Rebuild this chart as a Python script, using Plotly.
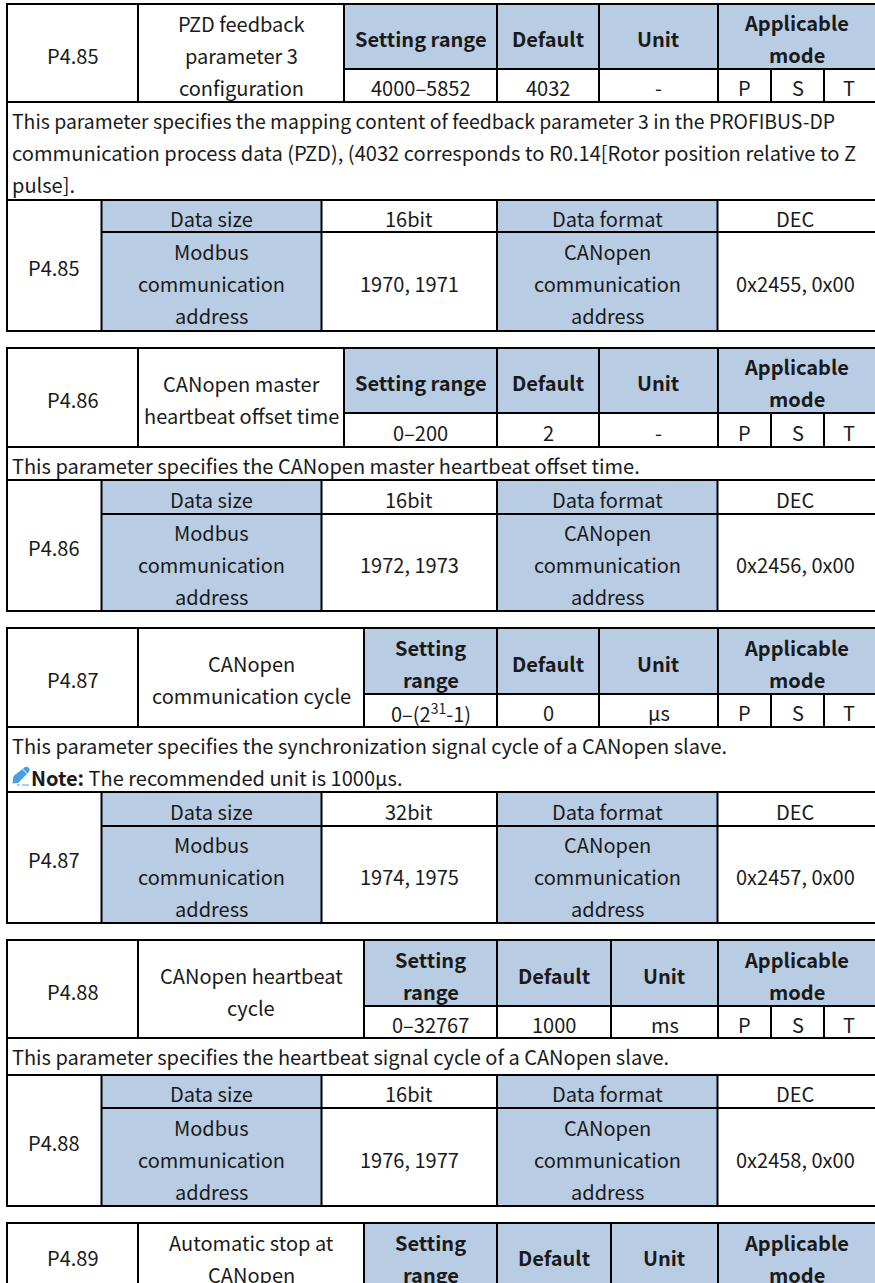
import plotly.graph_objects as go

# ---- table content ----
PARAM_CODES = ["P4.85", "P4.86", "P4.87", "P4.88", "P4.89"]
PARAM_NAMES = [
    ["PZD feedback", "parameter 3", "configuration"],
    ["CANopen master", "heartbeat offset time"],
    ["CANopen", "communication cycle"],
    ["CANopen heartbeat", "cycle"],
    ["Automatic stop at", "CANopen"],
]
SETTING_LABELS = [["Setting range"], ["Setting range"], ["Setting", "range"], ["Setting", "range"], ["Setting", "range"]]
SETTING_RANGES = ["4000–5852", "0–200", "0–(2<sup>31</sup>-1)", "0–32767", None]
DEFAULTS = ["4032", "2", "0", "1000", None]
UNITS = ["-", "-", "μs", "ms", None]
MODES = ["P", "S", "T"]
DESCRIPTIONS = [
    ["This parameter specifies the mapping content of feedback parameter 3 in the PROFIBUS-DP",
     "communication process data (PZD), (4032 corresponds to R0.14[Rotor position relative to Z",
     "pulse]."],
    ["This parameter specifies the CANopen master heartbeat offset time."],
    ["This parameter specifies the synchronization signal cycle of a CANopen slave.",
     "<b>Note:</b> The recommended unit is 1000μs."],
    ["This parameter specifies the heartbeat signal cycle of a CANopen slave."],
    [],
]
DATA_SIZES = ["16bit", "16bit", "32bit", "16bit", None]
DATA_FORMATS = ["DEC", "DEC", "DEC", "DEC", None]
MODBUS_ADDR = ["1970, 1971", "1972, 1973", "1974, 1975", "1976, 1977", None]
CANOPEN_ADDR = ["0x2455, 0x00", "0x2456, 0x00", "0x2457, 0x00", "0x2458, 0x00", None]

# ---- page geometry (pixels) ----
W, H = 875, 1283
ROW_Y = [  # top, header bottom, value bottom, description bottom, size bottom, table bottom
    [4, 69, 102, 200, 232, 331],
    [348, 413, 447, 480, 514, 611],
    [628, 694, 727, 792, 826, 923],
    [940, 1006, 1038, 1075, 1108, 1206],
    [1223, 1289, 1322, 1360, 1393, 1490],
]
UPPER_X = [  # left, code|name, name|range, range|default, default|unit, unit|mode, P|S, S|T
    [7, 138, 344, 497, 599, 718, 771, 824],
    [7, 138, 344, 497, 599, 718, 771, 824],
    [7, 138, 364, 497, 599, 718, 771, 824],
    [7, 138, 364, 497, 611, 718, 771, 824],
    [7, 138, 364, 497, 611, 718, 771, 824],
]
LOWER_X = [7, 101.5, 321.5, 497, 717.5]
LINE_H = 32
TEXT_DY = 2
FS = 20
FONT = "Noto Sans CJK SC"
BLUE = "#B8CCE4"
INK = "#1a1a1a"
PEN = "#4A9FE3"
# the first two description lines of P4.85 are fitted to the cell width
FITTED_SIZES = {"PROFIBUS-DP": 19.42, "relative to Z": 20.13}

shapes, annots = [], []


def rect(x0, y0, x1, y1):
    shapes.append(dict(type="rect", x0=x0, x1=x1, y0=y0, y1=y1, fillcolor=BLUE,
                       line=dict(width=0), layer="below"))


def line(x0, y0, x1, y1, w=2):
    shapes.append(dict(type="line", x0=x0, x1=x1, y0=y0, y1=y1,
                       line=dict(color="black", width=w), layer="above"))


def text(s, x, y, anchor="center", bold=False, size=FS):
    annots.append(dict(text=f"<b>{s}</b>" if bold else s, x=x, y=y, xref="x", yref="y",
                       xanchor=anchor, yanchor="middle", showarrow=False,
                       font=dict(family=FONT, size=size, color=INK),
                       borderpad=0, align=anchor))


def cell(lines, x0, x1, y0, y1, bold=False, cy=None):
    mid = ((y0 + y1) / 2 + TEXT_DY) if cy is None else cy
    top = mid - LINE_H * (len(lines) - 1) / 2
    for i, s in enumerate(lines):
        text(s, (x0 + x1) / 2, top + i * LINE_H, bold=bold)


for k, code in enumerate(PARAM_CODES):
    t, hb, vb, db, sb, bt = ROW_Y[k]
    ux, lx = UPPER_X[k], LOWER_X
    # fills
    rect(ux[2], t, W, hb)
    rect(lx[1], db, lx[2], bt)
    rect(lx[3], db, lx[4], bt)
    # rules
    line(ux[0] - 1, t, W, t)
    line(ux[2], hb, W, hb)
    line(ux[0] - 1, vb, W, vb)
    line(ux[0], t, ux[0], db)
    for x in ux[1:6]:
        line(x, t, x, vb)
    for x in ux[6:]:
        line(x, hb, x, vb)
    line(ux[0] - 1, db, W, db)
    line(lx[1], sb, W, sb)
    line(ux[0] - 1, bt, W, bt)
    line(lx[0], db, lx[0], bt)
    for x in lx[1:]:
        line(x, db, x, bt)

    # upper block text; the last block is cut by the page edge
    last = SETTING_RANGES[k] is None
    two_line_cy = 1258.5 if last else None
    one_line_cy = 1257 if last else None
    cell([code], ux[0], ux[1], t, vb, cy=one_line_cy)
    cell(PARAM_NAMES[k], ux[1], ux[2], t, vb, cy=two_line_cy)
    cell(SETTING_LABELS[k], ux[2], ux[3], t, hb, bold=True, cy=two_line_cy)
    cell(["Default"], ux[3], ux[4], t, hb, bold=True, cy=one_line_cy)
    cell(["Unit"], ux[4], ux[5], t, hb, bold=True, cy=one_line_cy)
    cell(["Applicable", "mode"], ux[5], W, t, hb, bold=True, cy=two_line_cy)
    if last:
        continue
    cell([SETTING_RANGES[k]], ux[2], ux[3], hb, vb)
    cell([DEFAULTS[k]], ux[3], ux[4], hb, vb)
    cell([UNITS[k]], ux[4], ux[5], hb, vb)
    for m, x0, x1 in zip(MODES, ux[5:], ux[6:] + [W - 1]):
        cell([m], x0, x1, hb, vb)
    for i, s in enumerate(DESCRIPTIONS[k]):
        yy = vb + 18.5 + i * LINE_H
        indent = 30 if s.startswith("<b>") else 11
        size = next((v for e, v in FITTED_SIZES.items() if s.endswith(e)), FS)
        text(s, indent, yy, anchor="left", size=size)
    # lower block text
    cell([code], lx[0], lx[1], db, bt)
    cell(["Data size"], lx[1], lx[2], db, sb)
    cell([DATA_SIZES[k]], lx[2], lx[3], db, sb)
    cell(["Data format"], lx[3], lx[4], db, sb)
    cell([DATA_FORMATS[k]], lx[4], W - 1, db, sb)
    cell(["Modbus", "communication", "address"], lx[1], lx[2], sb, bt)
    cell([MODBUS_ADDR[k]], lx[2], lx[3], sb, bt)
    cell(["CANopen", "communication", "address"], lx[3], lx[4], sb, bt)
    cell([CANOPEN_ADDR[k]], lx[4], W - 1, sb, bt)

# pen icon beside the note
shapes.append(dict(type="path", path="M12.5 783.5 L13.5 776 L25 767 Q27 766 29 768 Q30.5 770 29 772 L18 783 Z",
                   fillcolor=PEN, line=dict(width=0), layer="above"))
shapes.append(dict(type="line", x0=22.5, x1=27.5, y0=769, y1=774, line=dict(color="white", width=1)))
shapes.append(dict(type="line", x0=17, x1=20, y0=785, y1=785, line=dict(color=PEN, width=1)))
shapes.append(dict(type="line", x0=22, x1=29, y0=785, y1=785, line=dict(color=PEN, width=1)))

fig = go.Figure()
fig.update_layout(
    width=W, height=H, margin=dict(l=0, r=0, t=0, b=0),
    paper_bgcolor="white", plot_bgcolor="white", showlegend=False,
    xaxis=dict(range=[0, W], visible=False, fixedrange=True),
    yaxis=dict(range=[H, 0], visible=False, fixedrange=True),
    shapes=shapes, annotations=annots,
)
fig.write_html("out.html", config=dict(displayModeBar=False),
               post_script="document.body.style.margin='0';document.body.style.overflow='hidden';")
